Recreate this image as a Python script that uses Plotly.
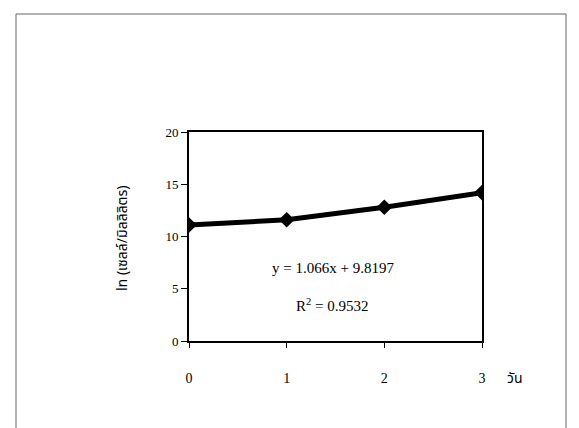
import plotly.graph_objects as go

days = [0, 1, 2, 3]
ln_cells = [11.1, 11.6, 12.8, 14.2]
x_ticks = [0, 1, 2, 3]
y_ticks = [0, 5, 10, 15, 20]
equation_text = "y = 1.066x + 9.8197"
r2_text = "R<sup>2</sup> = 0.9532"
y_title = "ln (เซลล์/มิลลิลิตร)"
x_title = "วัน"

# the page body adds an 8px offset, so the figure is drawn 8px smaller
OFF = 8
W, H = 579 - OFF, 428 - OFF
L, R, T, B = 189 - OFF, 579 - 482, 132 - OFF, 428 - 341
pw, ph = W - L - R, H - T - B


def px(xpix):
    return (xpix - OFF - L) / pw


def py(ypix):
    return (H - B - (ypix - OFF)) / ph


fig = go.Figure()
fig.add_trace(go.Scatter(
    x=days, y=ln_cells, mode="lines+markers",
    line=dict(color="black", width=5),
    marker=dict(symbol="diamond", size=12, color="black"),
    showlegend=False,
))

serif = "Liberation Serif, Times New Roman, serif"
thai = "Noto Sans Thai, Noto Sans, DejaVu Sans, sans-serif"

fig.update_layout(
    width=W, height=H,
    margin=dict(l=L, r=R, t=T, b=B),
    paper_bgcolor="white", plot_bgcolor="white",
    font=dict(family=serif, size=13, color="black"),
    xaxis=dict(
        range=[0, 3], tickvals=x_ticks, ticks="outside", ticklen=5,
        tickwidth=1, tickcolor="black", showgrid=False, zeroline=False,
        showline=True, linecolor="black", linewidth=2, mirror=True,
        ticklabelstandoff=18, tickfont=dict(family=serif, size=14, color="black"),
    ),
    yaxis=dict(
        range=[0, 20], tickvals=y_ticks, ticks="outside", ticklen=6,
        tickwidth=1, tickcolor="black", showgrid=False, zeroline=False,
        showline=True, linecolor="black", linewidth=2, mirror=True,
        tickfont=dict(family=serif, size=13, color="black"),
    ),
)

# outer frame of the chart
fig.add_shape(type="rect", xref="paper", yref="paper",
              x0=px(16), x1=px(566), y0=py(445), y1=py(14),
              line=dict(color="#666666", width=1), layer="below")

ann = [
    dict(x=px(333), y=py(268), text=equation_text, font=dict(family=serif, size=15)),
    dict(x=px(332), y=py(305), text=r2_text, font=dict(family=serif, size=15)),
    dict(x=px(515), y=py(378), text=x_title, font=dict(family=thai, size=14)),
    dict(x=px(122), y=py(238), text=y_title, textangle=-90,
         font=dict(family=thai, size=14)),
]
for a in ann:
    fig.add_annotation(xref="paper", yref="paper", showarrow=False,
                       xanchor="center", yanchor="middle", **a)

fig.write_html("out.html")
